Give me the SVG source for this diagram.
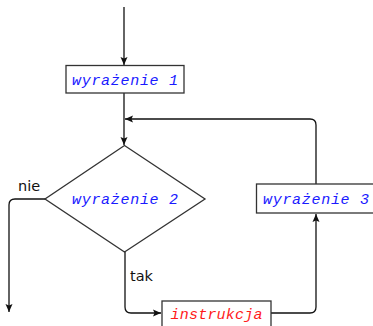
<svg xmlns="http://www.w3.org/2000/svg" width="373" height="326" viewBox="0 0 373 326">
  <style>
    .box { fill: #fff; stroke: #333; stroke-width: 1.3; }
    .edge { fill: none; stroke: #111; stroke-width: 1.3; marker-end: url(#arrow); }
    .code { font-family: "Liberation Mono", "DejaVu Sans Mono", monospace; font-style: italic; font-size: 15px; text-anchor: middle; }
    .blue { fill: #1a1aff; }
    .red { fill: #ff1a1a; }
    .lbl { font-family: "DejaVu Sans", "Liberation Sans", sans-serif; font-size: 14.5px; fill: #111; }
  </style>
  <defs>
    <marker id="arrow" markerWidth="10" markerHeight="8" refX="8" refY="4" orient="auto" markerUnits="userSpaceOnUse">
      <path d="M0,0.5 L8,4 L0,7.5 L1.5,4 Z" fill="#111"/>
    </marker>
  </defs>

  <g id="connectors">
    <!-- entry -->
    <path class="edge" d="M124,7 V65"/>
    <!-- expr1 to condition -->
    <path class="edge" d="M124,93 V145"/>
    <!-- false branch -->
    <path class="edge" d="M45,199 H15 Q9,199 9,205 V312"/>
    <!-- true branch -->
    <path class="edge" d="M125,252 V307 Q125,313 131,313 H161"/>
    <!-- body to expr3 -->
    <path class="edge" d="M271,313 H310 Q316,313 316,307 V214"/>
    <!-- expr3 back to loop -->
    <path class="edge" d="M316,184 V125 Q316,119 310,119 H125"/>
  </g>

  <g id="expr1">
    <rect class="box" x="66" y="65.5" width="118" height="27.5"/>
    <text class="code blue" x="125" y="84.5" textLength="106" lengthAdjust="spacing">wyrażenie 1</text>
  </g>

  <g id="cond">
    <polygon class="box" points="124.5,145.5 205,199 124.5,252 45,199"/>
    <text class="code blue" x="125" y="203.5" textLength="106" lengthAdjust="spacing">wyrażenie 2</text>
  </g>

  <g id="expr3">
    <rect class="box" x="256.5" y="184" width="125" height="29"/>
    <text class="code blue" x="316" y="203.5" textLength="106" lengthAdjust="spacing">wyrażenie 3</text>
  </g>

  <g id="body">
    <rect class="box" x="162" y="301" width="109" height="35"/>
    <text class="code red" x="216.5" y="318.5" textLength="92" lengthAdjust="spacing">instrukcja</text>
  </g>

  <text class="lbl" x="18" y="191">nie</text>
  <text class="lbl" x="130" y="281">tak</text>
</svg>
